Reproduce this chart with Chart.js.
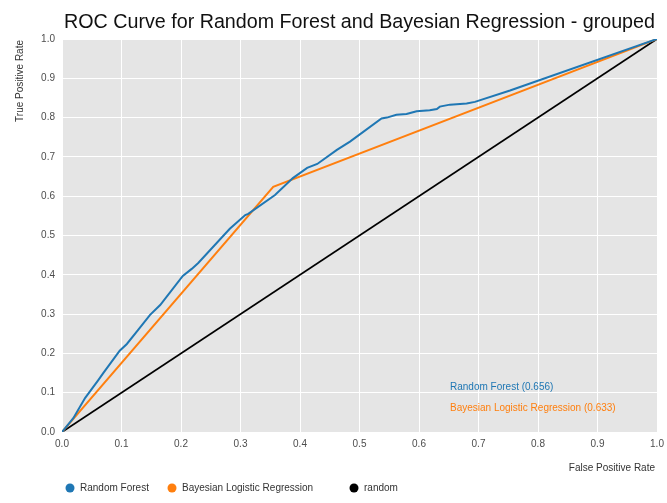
<!DOCTYPE html>
<html>
<head>
<meta charset="utf-8">
<script src="https://cdn.jsdelivr.net/npm/chart.js@4.4.1/dist/chart.umd.min.js"></script>
<style>
  html, body { margin: 0; padding: 0; background: #fff; }
  #wrap { width: 667px; height: 503px; }
</style>
</head>
<body>
<div id="wrap"><canvas id="cvs_roc" width="667" height="503"></canvas></div>
<script>
const titulo = "ROC Curve for Random Forest and Bayesian Regression - grouped";
const nomesSeries = ["Random Forest", "Bayesian Logistic Regression", "random"];
const coresSeries = ["#1f77b4", "#ff7f0e", "#000000"];
const aucSeries = ["0.656", "0.633"];

// Random Forest (FPR, TPR)
const rfFpr = [0, 0.019, 0.039, 0.061, 0.069, 0.097, 0.109, 0.128, 0.148, 0.165, 0.203, 0.218,
  0.229, 0.282, 0.308, 0.313, 0.358, 0.388, 0.412, 0.429, 0.462, 0.484, 0.537, 0.546, 0.562,
  0.579, 0.596, 0.618, 0.630, 0.635, 0.652, 0.680, 0.694, 0.753, 1];
const rfTpr = [0, 0.035, 0.087, 0.132, 0.149, 0.207, 0.224, 0.260, 0.298, 0.323, 0.397, 0.415,
  0.430, 0.517, 0.552, 0.555, 0.603, 0.646, 0.672, 0.682, 0.718, 0.739, 0.798, 0.800, 0.807,
  0.809, 0.816, 0.819, 0.822, 0.828, 0.833, 0.836, 0.840, 0.869, 1];

// Bayesian Logistic Regression
const blrFpr = [0, 0.355, 1];
const blrTpr = [0, 0.624, 1];

// linha aleatoria
const randFpr = [0, 1];
const randTpr = [0, 1];

const ticksEixo = [0, 0.1, 0.2, 0.3, 0.4, 0.5, 0.6, 0.7, 0.8, 0.9, 1.0];

function pares(xs, ys) {
  return xs.map(function (x, i) { return { x: x, y: ys[i] }; });
}

const fonte = "'Liberation Sans', Arial, Helvetica, sans-serif";

// fundo cinza da area do grafico
const fundoPlugin = {
  id: "fundo",
  beforeDraw: function (chart) {
    const a = chart.chartArea;
    const ctx = chart.ctx;
    ctx.save();
    ctx.fillStyle = "#e5e5e5";
    ctx.fillRect(a.left, a.top, a.right - a.left, a.bottom - a.top);
    ctx.restore();
  },
};

// titulo, titulos dos eixos, legenda e anotacoes
const textosPlugin = {
  id: "textos",
  afterDraw: function (chart) {
    const ctx = chart.ctx;
    const a = chart.chartArea;
    ctx.save();

    // titulo ajustado para ocupar a largura da area do grafico
    ctx.fillStyle = "#111";
    ctx.font = "20px " + fonte;
    const largura = ctx.measureText(titulo).width;
    const tam = Math.min(22, 20 * (a.right - a.left - 4) / largura);
    ctx.font = tam.toFixed(2) + "px " + fonte;
    ctx.textAlign = "center";
    ctx.textBaseline = "alphabetic";
    ctx.fillText(titulo, (a.left + a.right) / 2, 28);

    ctx.fillStyle = "#333";
    ctx.font = "10px " + fonte;
    ctx.textAlign = "right";
    ctx.textBaseline = "middle";
    ctx.fillText("False Positive Rate", a.right - 2, 468);

    ctx.save();
    ctx.translate(20, a.top);
    ctx.rotate(-Math.PI / 2);
    ctx.textAlign = "right";
    ctx.fillText("True Positive Rate", -1, 0);
    ctx.restore();

    // legenda
    const legX = [70, 172, 354];
    ctx.textAlign = "left";
    for (let i = 0; i < nomesSeries.length; i++) {
      ctx.beginPath();
      ctx.fillStyle = coresSeries[i];
      ctx.arc(legX[i], 488, 4.5, 0, Math.PI * 2);
      ctx.fill();
      ctx.fillStyle = "#333";
      ctx.fillText(nomesSeries[i], legX[i] + 10, 488);
    }

    // anotacoes AUC
    ctx.fillStyle = coresSeries[0];
    ctx.fillText(nomesSeries[0] + " (" + aucSeries[0] + ")", 450, 387);
    ctx.fillStyle = coresSeries[1];
    ctx.fillText(nomesSeries[1] + " (" + aucSeries[1] + ")", 450, 408);

    ctx.restore();
  },
};

new Chart(document.getElementById("cvs_roc"), {
  type: "scatter",
  data: {
    datasets: [
      {
        label: nomesSeries[0],
        data: pares(rfFpr, rfTpr),
        borderColor: coresSeries[0],
        backgroundColor: coresSeries[0],
        borderWidth: 2,
      },
      {
        label: nomesSeries[1],
        data: pares(blrFpr, blrTpr),
        borderColor: coresSeries[1],
        backgroundColor: coresSeries[1],
        borderWidth: 2,
      },
      {
        label: nomesSeries[2],
        data: pares(randFpr, randTpr),
        borderColor: coresSeries[2],
        backgroundColor: coresSeries[2],
        borderWidth: 1.8,
      },
    ],
  },
  options: {
    responsive: false,
    animation: false,
    showLine: true,
    elements: { point: { radius: 0, hoverRadius: 0 }, line: { tension: 0 } },
    layout: { padding: { top: 39, right: 10, left: 0, bottom: 0 } },
    plugins: {
      legend: { display: false },
      title: { display: false },
      tooltip: { enabled: false },
    },
    scales: {
      x: {
        type: "linear",
        min: 0,
        max: 1,
        afterFit: function (scale) {
          scale.height = 71;
          scale.paddingLeft = 0;
          scale.paddingRight = 0;
        },
        afterBuildTicks: function (scale) {
          scale.ticks = ticksEixo.map(function (v) { return { value: v }; });
        },
        grid: { color: "#ffffff", lineWidth: 1, drawTicks: false },
        border: { display: false },
        ticks: {
          padding: 6,
          color: "#4d4d4d",
          font: { size: 10, family: fonte },
          maxRotation: 0,
          callback: function (v) { return Number(v).toFixed(1); },
        },
      },
      y: {
        type: "linear",
        min: 0,
        max: 1,
        afterFit: function (scale) {
          scale.width = 62;
          scale.paddingTop = 0;
          scale.paddingBottom = 0;
        },
        afterBuildTicks: function (scale) {
          scale.ticks = ticksEixo.map(function (v) { return { value: v }; });
        },
        grid: { color: "#ffffff", lineWidth: 1, drawTicks: false },
        border: { display: false },
        ticks: {
          padding: 7,
          color: "#4d4d4d",
          font: { size: 10, family: fonte },
          callback: function (v) { return Number(v).toFixed(1); },
        },
      },
    },
  },
  plugins: [fundoPlugin, textosPlugin],
});
</script>
</body>
</html>
